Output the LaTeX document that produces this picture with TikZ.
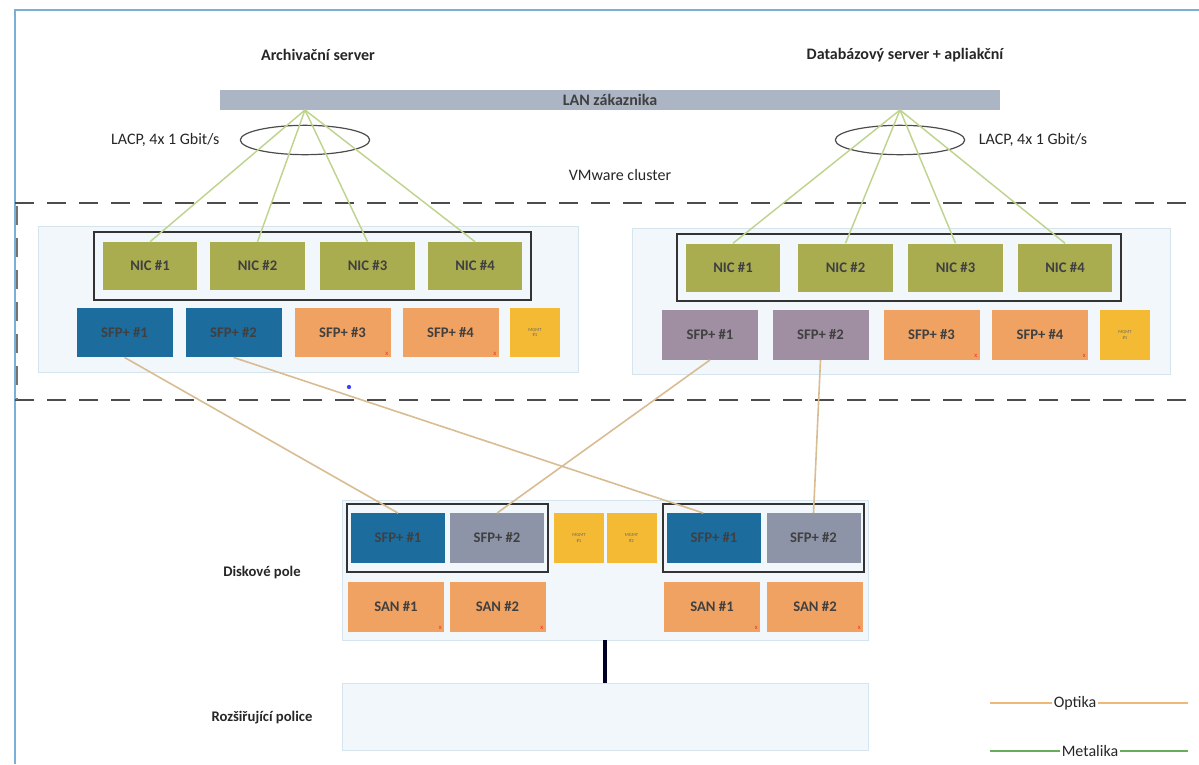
\documentclass[tikz,border=0pt]{standalone}
\usepackage{fontspec}
\setmainfont{Carlito}
\usetikzlibrary{positioning,fit,shapes.geometric}
\definecolor{NicOlive}{RGB}{170,172,80}
\definecolor{SfpBlue}{RGB}{28,108,158}
\definecolor{SfpMauve}{RGB}{160,142,162}
\definecolor{SfpGrey}{RGB}{142,148,168}
\definecolor{PortOrange}{RGB}{240,162,98}
\definecolor{MgmtYellow}{RGB}{245,186,52}
\definecolor{PanelBlue}{RGB}{241,247,251}
\definecolor{PanelEdge}{RGB}{214,228,238}
\definecolor{LanGrey}{RGB}{172,181,196}
\definecolor{MetalGreen}{RGB}{190,212,142}
\definecolor{OptTan}{RGB}{216,188,146}
\definecolor{FrameBlue}{RGB}{122,176,216}
\definecolor{LegOrange}{RGB}{240,184,120}
\definecolor{LegGreen}{RGB}{104,172,92}

\tikzset{
  title/.style={font=\fontsize{12}{14}\selectfont\bfseries, text=black!85},
  note/.style={font=\fontsize{12}{14}\selectfont, text=black!85, inner sep=1pt},
  lanbar/.style={fill=LanGrey, minimum width=585pt, minimum height=15pt, inner sep=0pt,
                 font=\fontsize{12}{14}\selectfont\bfseries, text=black!75},
  lacp/.style={ellipse, draw=black!70, line width=0.9pt, minimum width=97pt, minimum height=22pt},
  cluster/.style={draw=black!70, line width=1.8pt, dash pattern=on 14pt off 10pt},
  panel/.style={draw=PanelEdge, fill=PanelBlue, line width=0.5pt},
  port/.style={minimum width=72pt, minimum height=37pt, inner sep=0pt,
               font=\fontsize{11}{12}\selectfont\bfseries, text=black!75},
  nic/.style={port, fill=NicOlive, minimum width=71pt, minimum height=36pt},
  mgmt/.style={port, fill=MgmtYellow, minimum width=37.5pt, align=center,
               font=\fontsize{3.5}{4}\selectfont, text=black!60},
  grpframe/.style={draw=black!80, line width=1.5pt},
  metal/.style={draw=MetalGreen, line width=1.1pt},
  optic/.style={draw=OptTan, line width=1.2pt},
}
\newcommand\deadport[1]{\node[font=\fontsize{5}{5}\selectfont, text=red!85, inner sep=0pt]
  at ([xshift=-3pt,yshift=3pt]#1.south east) {x};}

\begin{document}
\begin{tikzpicture}[x=0.75pt,y=-0.75pt]
\useasboundingbox (0,0) rectangle (1199,764);

% scanned page edge
\draw[FrameBlue, line width=0.8pt] (15,764) -- (15,10) -- (1199,10);

% Titles
\node[title] (archT) at (318,55) {Archivační server};
\node[title] (dbT) at (905,55) {Databázový server + apliakční};

% --- LAN + LACP bundles ---
\node[lanbar] (lan) at (610,100) {LAN zákaznika};
\coordinate (lanL) at (305,110);
\coordinate (lanR) at (900,110);
\node[lacp] (lagL) at (305,140) {};
\node[lacp] (lagR) at (900,140) {};
\node[note, left=14pt of lagL] (lacpL) {LACP, 4x 1 Gbit/s};
\node[note, right=9pt of lagR] (lacpR) {LACP, 4x 1 Gbit/s};
\node[note] (vmw) at (620,175) {VMware cluster};

% VMware cluster boundary
\draw[cluster] (15,203) -- (1199,203);
\draw[cluster] (15,400) -- (1199,400);
\draw[cluster, draw=black!55] (17,206) -- (17,400);

% --- Archive server ---
\def\nicyL{266}
\def\sfpyL{332.5}
\node[panel, minimum width=405pt, minimum height=109.5pt] (srvL) at (308,299) {};
\node[nic] (nicL1) at (150,\nicyL) {NIC \#1};
\node[nic] (nicL2) at (257.5,\nicyL) {NIC \#2};
\node[nic] (nicL3) at (367.5,\nicyL) {NIC \#3};
\node[nic] (nicL4) at (475,\nicyL) {NIC \#4};
\node[grpframe, fit=(nicL1)(nicL4), inner xsep=6pt, inner ysep=7pt] (nicgrpL) {};
\node[port, fill=SfpBlue] (sfpL1) at (124.5,\sfpyL) {SFP+ \#1};
\node[port, fill=SfpBlue] (sfpL2) at (233.5,\sfpyL) {SFP+ \#2};
\node[port, fill=PortOrange] (sfpL3) at (342.5,\sfpyL) {SFP+ \#3};
\node[port, fill=PortOrange] (sfpL4) at (450.5,\sfpyL) {SFP+ \#4};
\node[mgmt] (mgmtL) at (535,\sfpyL) {MGMT\\\#1};
\deadport{sfpL3}
\deadport{sfpL4}

% --- Database + application server ---
\def\nicyR{267.5}
\def\sfpyR{335}
\node[panel, minimum width=403.5pt, minimum height=109.5pt] (srvR) at (901,301) {};
\node[nic] (nicR1) at (733,\nicyR) {NIC \#1};
\node[nic] (nicR2) at (845.5,\nicyR) {NIC \#2};
\node[nic] (nicR3) at (955.5,\nicyR) {NIC \#3};
\node[nic] (nicR4) at (1065,\nicyR) {NIC \#4};
\node[grpframe, fit=(nicR1)(nicR4), inner xsep=6pt, inner ysep=7pt] (nicgrpR) {};
\node[port, fill=SfpMauve] (sfpR1) at (710,\sfpyR) {SFP+ \#1};
\node[port, fill=SfpMauve] (sfpR2) at (820.5,\sfpyR) {SFP+ \#2};
\node[port, fill=PortOrange] (sfpR3) at (931.5,\sfpyR) {SFP+ \#3};
\node[port, fill=PortOrange] (sfpR4) at (1040,\sfpyR) {SFP+ \#4};
\node[mgmt] (mgmtR) at (1125,\sfpyR) {MGMT\\\#1};
\deadport{sfpR3}
\deadport{sfpR4}

% metallic uplinks
\draw[metal] (lanL) -- (nicL1.north);
\draw[metal] (lanL) -- (nicL2.north);
\draw[metal] (lanL) -- (nicL3.north);
\draw[metal] (lanL) -- (nicL4.north);
\draw[metal] (lanR) -- (nicR1.north);
\draw[metal] (lanR) -- (nicR2.north);
\draw[metal] (lanR) -- (nicR3.north);
\draw[metal] (lanR) -- (nicR4.north);

% --- Disk array ---
\def\ctly{538}
\def\sany{607}
\node[note, font=\fontsize{11}{13}\selectfont\bfseries] (diskT) at (262,572) {Diskové pole};
\node[panel, minimum width=394.5pt, minimum height=105pt] (disk) at (605,570) {};
\node[port, fill=SfpBlue, minimum width=70.5pt] (dA1) at (398,\ctly) {SFP+ \#1};
\node[port, fill=SfpGrey, minimum width=70.5pt] (dA2) at (497,\ctly) {SFP+ \#2};
\node[mgmt] (dM1) at (579,\ctly) {MGMT\\\#1};
\node[mgmt] (dM2) at (631.5,\ctly) {MGMT\\\#2};
\node[port, fill=SfpBlue, minimum width=70.5pt] (dB1) at (714,\ctly) {SFP+ \#1};
\node[port, fill=SfpGrey, minimum width=70.5pt] (dB2) at (813.5,\ctly) {SFP+ \#2};
\node[grpframe, fit=(dA1)(dA2), inner xsep=2.5pt, inner ysep=7pt] (ctlA) {};
\node[grpframe, fit=(dB1)(dB2), inner xsep=2.5pt, inner ysep=7pt] (ctlB) {};
\node[port, fill=PortOrange] (sanA1) at (396,\sany) {SAN \#1};
\node[port, fill=PortOrange] (sanA2) at (497.5,\sany) {SAN \#2};
\node[port, fill=PortOrange] (sanB1) at (712,\sany) {SAN \#1};
\node[port, fill=PortOrange] (sanB2) at (815,\sany) {SAN \#2};
\deadport{sanA1}
\deadport{sanA2}
\deadport{sanB1}
\deadport{sanB2}

% optical links
\draw[optic] (sfpL1.south) -- (dA1.north);
\draw[optic] (sfpL2.south) -- ([xshift=-8pt]dB1.north);
\draw[optic] (sfpR1.south) -- (dA2.north);
\draw[optic] (sfpR2.south) -- (dB2.north);
\fill[blue!75] (349,387) circle (1.6pt);

% --- Expansion shelf ---
\node[panel, minimum width=394.5pt, minimum height=50pt] (shelf) at (605,716.5) {};
\node[note, font=\fontsize{11}{13}\selectfont\bfseries] (shelfT) at (262,718) {Rozšiřující police};
\draw[line width=3pt, draw=black!85!blue] (disk.south) -- (shelf.north);

% Legend
\coordinate (optA) at (990,703);
\coordinate (optB) at (1188,703);
\coordinate (metA) at (990,751);
\coordinate (metB) at (1188,751);
\node[note] (optika) at (1075,703) {Optika};
\node[note] (metalika) at (1090,751) {Metalika};
\draw[LegOrange, line width=1.5pt] (optA) -- (optika);
\draw[LegOrange, line width=1.5pt] (optika) -- (optB);
\draw[LegGreen, line width=1.5pt] (metA) -- (metalika);
\draw[LegGreen, line width=1.5pt] (metalika) -- (metB);

\end{tikzpicture}
\end{document}
